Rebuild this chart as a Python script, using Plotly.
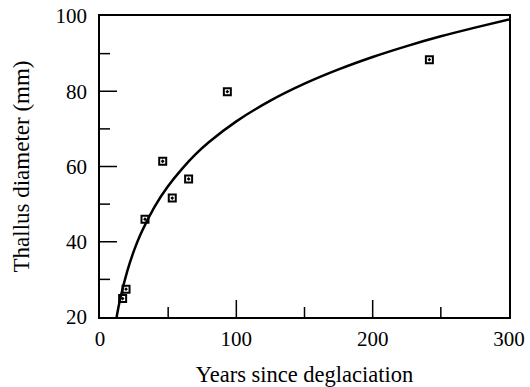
import plotly.graph_objects as go

# Observed data (years since deglaciation, thallus diameter mm)
obs_years = [16.6, 19.1, 33, 46, 53, 65, 93.4, 241.6]
obs_diam = [24.9, 27.4, 46.0, 61.4, 51.6, 56.7, 79.9, 88.4]

# Growth curve
curve_years = [12.2, 15, 20, 25, 30, 40, 50, 60, 70, 80, 100, 125, 150, 175, 200, 225, 250, 275, 300]
curve_diam = [20.0, 25.1, 32.2, 37.7, 42.2, 49.3, 54.8, 59.3, 63.2, 66.5, 72.0, 77.5, 82.0, 85.8, 89.1, 92.0, 94.6, 96.9, 99.1]

x_ticks = [0, 100, 200, 300]
y_ticks = [20, 40, 60, 80, 100]
x_minor = [50, 150, 250]
y_minor = [30, 50, 70, 90]

X_RANGE = [0, 300]
Y_RANGE = [20, 100]
FONT = "Liberation Serif"

W, H = 530, 387
M = dict(l=100, r=21, t=16, b=70)
PLOT_W = W - M["l"] - M["r"]
PLOT_H = H - M["t"] - M["b"]
MAJOR_LEN, MINOR_LEN = 17, 10

fig = go.Figure()
fig.add_trace(go.Scatter(x=curve_years, y=curve_diam, mode="lines",
                         line=dict(color="black", width=2.5, shape="spline"),
                         showlegend=False, hoverinfo="skip"))
fig.add_trace(go.Scatter(x=obs_years, y=obs_diam, mode="markers",
                         marker=dict(symbol="square-open-dot", size=7, color="black",
                                     line=dict(color="black", width=2)),
                         showlegend=False))

axis_common = dict(showgrid=False, zeroline=False, showline=True, linecolor="black",
                   linewidth=1.5, mirror=True, ticks="",
                   tickfont=dict(family=FONT, size=21, color="black"),
                   automargin=False, tickmode="array")

fig.update_xaxes(range=X_RANGE, tickvals=x_ticks, ticklabelstandoff=2,
                 title=dict(text="Years since deglaciation", standoff=20,
                            font=dict(family=FONT, size=22.5, color="black")),
                 **axis_common)
fig.update_yaxes(range=Y_RANGE, tickvals=y_ticks, ticklabelstandoff=7,
                 title=dict(text="Thallus diameter (mm)", standoff=19,
                            font=dict(family=FONT, size=23, color="black")),
                 **axis_common)

# inside tick marks as line segments in data units (pixel lengths converted by axis scale)
x_per_px = (X_RANGE[1] - X_RANGE[0]) / PLOT_W
y_per_px = (Y_RANGE[1] - Y_RANGE[0]) / PLOT_H

tx, ty = [], []
for vals, ln in ((x_ticks, MAJOR_LEN), (x_minor, MINOR_LEN)):
    for v in vals:
        if X_RANGE[0] < v < X_RANGE[1]:
            tx += [v, v, None]
            ty += [Y_RANGE[0], Y_RANGE[0] + ln * y_per_px, None]
for vals, ln in ((y_ticks, MAJOR_LEN), (y_minor, MINOR_LEN)):
    for v in vals:
        if Y_RANGE[0] < v < Y_RANGE[1]:
            tx += [X_RANGE[0], X_RANGE[0] + ln * x_per_px, None]
            ty += [v, v, None]
fig.add_trace(go.Scatter(x=tx, y=ty, mode="lines", line=dict(color="black", width=1.5),
                         showlegend=False, hoverinfo="skip"))

fig.update_layout(
    width=W, height=H, margin=M,
    plot_bgcolor="white", paper_bgcolor="white",
    font=dict(family=FONT, color="black"),
)

fig.write_html("out.html")
